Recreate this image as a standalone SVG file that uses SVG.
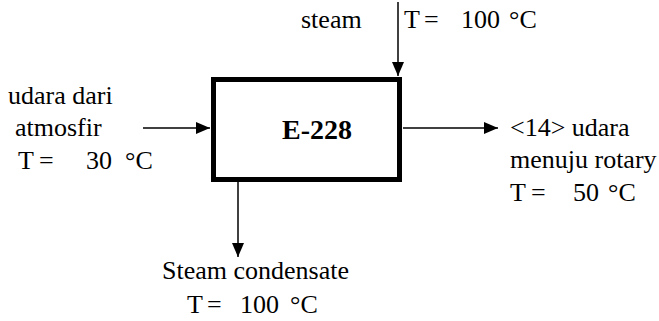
<svg xmlns="http://www.w3.org/2000/svg" width="659" height="321" viewBox="0 0 659 321">
<style>
.t{font-family:'Liberation Serif','Times New Roman',serif;font-size:26px;fill:#000}
.b{font-weight:bold;font-size:28px}
.ln{stroke:#000;stroke-width:1.5;fill:none}
</style>
<defs>
<marker id="ah" markerWidth="14" markerHeight="12" refX="14" refY="6" orient="auto" markerUnits="userSpaceOnUse">
<path d="M0,0 L14,6 L0,12 Z" fill="#000"/>
</marker>
</defs>
<rect width="659" height="321" fill="#fff"/>
<g id="connectors">
<line class="ln" x1="398" y1="2" x2="398" y2="76" marker-end="url(#ah)"/>
<line class="ln" x1="143" y1="128" x2="210" y2="128" marker-end="url(#ah)"/>
<line class="ln" x1="403" y1="128" x2="498" y2="128" marker-end="url(#ah)"/>
<line class="ln" x1="238" y1="182" x2="238" y2="257" marker-end="url(#ah)"/>
</g>
<g id="E-228">
<rect x="213.5" y="79.5" width="186" height="100" fill="none" stroke="#000" stroke-width="5"/>
<text class="t b" x="317" y="139" text-anchor="middle">E-228</text>
</g>
<g id="steam">
<text class="t" x="301" y="28">steam</text>
<text class="t" x="404" y="28">T</text>
<text class="t" x="424" y="28">=</text>
<text class="t" x="461" y="28">100</text>
<text class="t" x="509" y="28">°C</text>
</g>
<g id="udara-in">
<text class="t" x="8" y="104">udara dari</text>
<text class="t" x="15" y="136">atmosfir</text>
<text class="t" x="18" y="169">T</text>
<text class="t" x="39" y="169">=</text>
<text class="t" x="86" y="169">30</text>
<text class="t" x="125" y="169">°C</text>
</g>
<g id="udara-out">
<text class="t" x="510" y="136">&lt;14&gt; udara</text>
<text class="t" x="510" y="168">menuju rotary</text>
<text class="t" x="510" y="201">T</text>
<text class="t" x="531" y="201">=</text>
<text class="t" x="573" y="201">50</text>
<text class="t" x="608" y="201">°C</text>
</g>
<g id="condensate">
<text class="t" x="162" y="279">Steam condensate</text>
<text class="t" x="187" y="313">T</text>
<text class="t" x="207" y="313">=</text>
<text class="t" x="240" y="313">100</text>
<text class="t" x="290" y="313">°C</text>
</g>
</svg>
